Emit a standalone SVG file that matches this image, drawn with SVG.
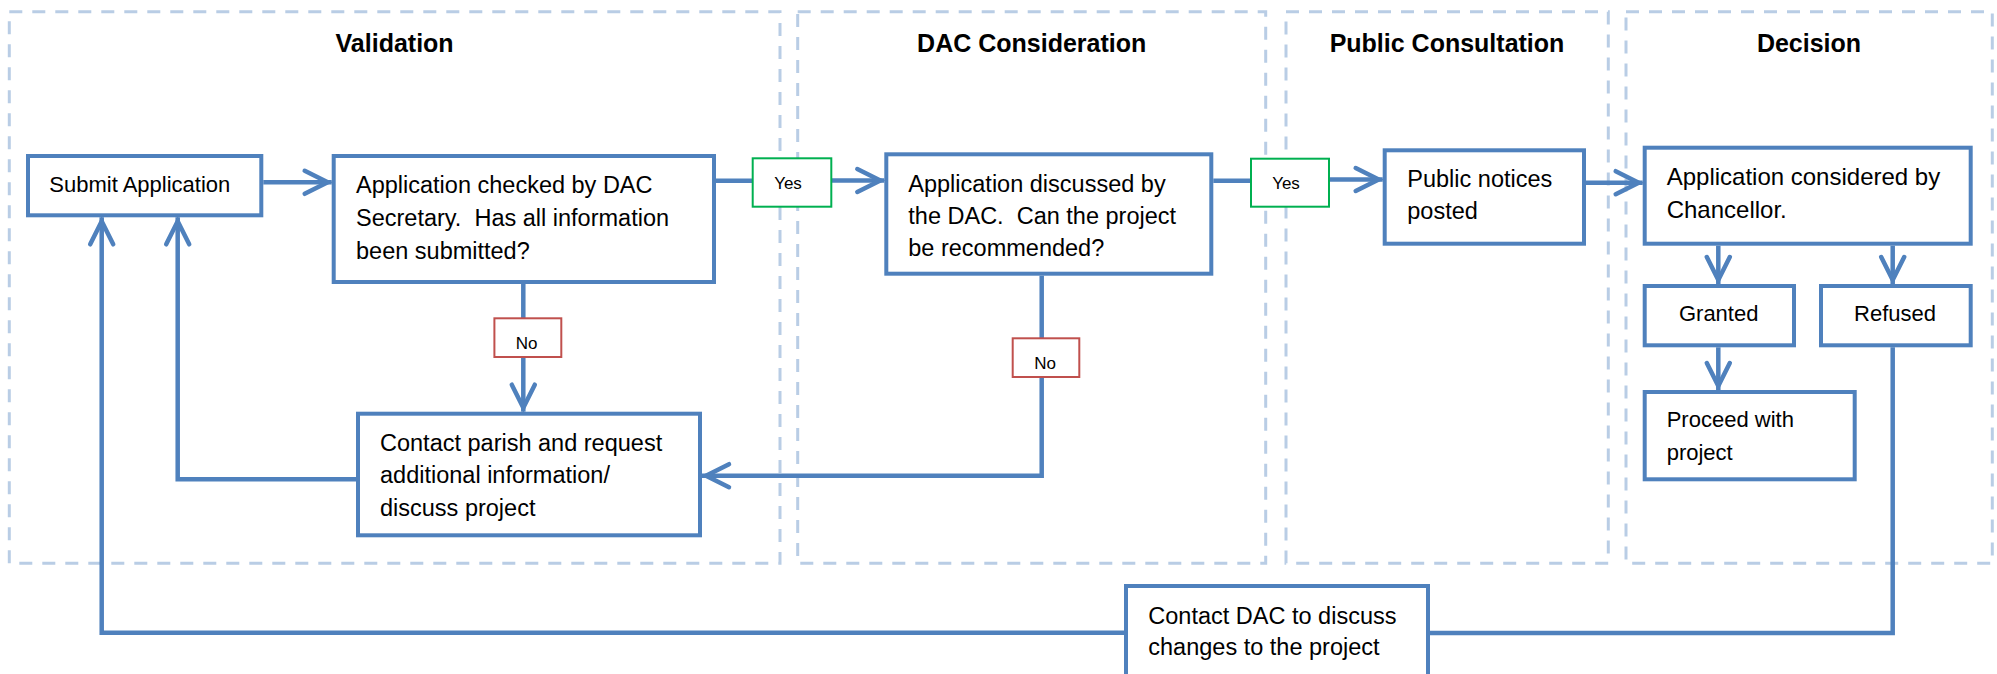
<svg xmlns="http://www.w3.org/2000/svg" width="1997" height="674" viewBox="0 0 1997 674">
  <style>
    .region { fill: none; stroke: #B9CDE5; stroke-width: 3; stroke-dasharray: 13 10; }
    .title { font-family: "Liberation Sans", Arial, sans-serif; font-weight: bold; font-size: 25px; fill: #000; text-anchor: middle; }
    .box { fill: #fff; stroke: #4F81BD; stroke-width: 4; }
    .txt { font-family: "Liberation Sans", Arial, sans-serif; font-size: 23.5px; fill: #000; white-space: pre; }
    .sm { font-size: 22px; }
    .mid { text-anchor: middle; }
    .yes { fill: #fff; stroke: #00B050; stroke-width: 2; }
    .no { fill: #fff; stroke: #C0504D; stroke-width: 2; }
    .lbl { font-family: "Liberation Sans", Arial, sans-serif; font-size: 17px; fill: #000; text-anchor: middle; }
    .conn { fill: none; stroke: #4F81BD; stroke-width: 4.5; stroke-linejoin: miter; }
    .arrow { marker-end: url(#chev); }
  </style>
  <defs>
    <marker id="chev" markerUnits="userSpaceOnUse" viewBox="-32 -16 34 32" markerWidth="34" markerHeight="32" refX="0" refY="0" orient="auto" overflow="visible">
      <path d="M-27,-11.5 L-4,0 L-27,11.5" fill="none" stroke="#4F81BD" stroke-width="4.5" stroke-linecap="round" stroke-linejoin="miter"/>
    </marker>
  </defs>

  <g id="region-validation">
    <rect class="region" x="9.3" y="11.7" width="770.7" height="551.6"/>
    <text class="title" x="394.6" y="51.7">Validation</text>
  </g>
  <g id="region-dac">
    <rect class="region" x="797.7" y="11.7" width="468" height="551.6"/>
    <text class="title" x="1031.7" y="51.7">DAC Consideration</text>
  </g>
  <g id="region-public">
    <rect class="region" x="1286" y="11.7" width="322.3" height="551.6"/>
    <text class="title" x="1447" y="51.7">Public Consultation</text>
  </g>
  <g id="region-decision">
    <rect class="region" x="1626" y="11.7" width="366.3" height="551.6"/>
    <text class="title" x="1809" y="51.7">Decision</text>
  </g>

  <g id="connectors">
    <path class="conn arrow" d="M263.3,182.3 H331.7"/>
    <path class="conn" d="M716,180.7 H752.7"/>
    <path class="conn arrow" d="M831.3,180.5 H884.3"/>
    <path class="conn" d="M523.3,284 V318.3"/>
    <path class="conn arrow" d="M523.3,357 V411.7"/>
    <path class="conn" d="M1213.3,180.7 H1251"/>
    <path class="conn arrow" d="M1329,179.5 H1382.7"/>
    <path class="conn" d="M1041.7,275.7 V338.3"/>
    <path class="conn arrow" d="M1041.7,377 V475.7 H702"/>
    <path class="conn arrow" d="M356,479.3 H177.7 V217.3"/>
    <path class="conn arrow" d="M1586,182.7 H1642.7"/>
    <path class="conn arrow" d="M1718.3,245.7 V284"/>
    <path class="conn arrow" d="M1892.7,245.7 V284"/>
    <path class="conn arrow" d="M1718.3,347.3 V390"/>
    <path class="conn" d="M1892.7,347.3 V633 H1430"/>
    <path class="conn arrow" d="M1124,632.7 H101.7 V217.3"/>
  </g>

  <g id="label-yes-1">
    <rect class="yes" x="752.7" y="158.3" width="78.6" height="48.4"/>
    <text class="lbl" x="788" y="189.3">Yes</text>
  </g>
  <g id="label-yes-2">
    <rect class="yes" x="1251" y="158.7" width="78" height="48"/>
    <text class="lbl" x="1286" y="189.3">Yes</text>
  </g>
  <g id="label-no-1">
    <rect class="no" x="494.4" y="318.3" width="66.9" height="38.7"/>
    <text class="lbl" x="526.5" y="349">No</text>
  </g>
  <g id="label-no-2">
    <rect class="no" x="1012.7" y="338.3" width="66.6" height="38.7"/>
    <text class="lbl" x="1045" y="369">No</text>
  </g>

  <g id="node-submit">
    <rect class="box" x="28" y="156" width="233.3" height="59.3"/>
    <text class="txt sm" x="49.3" y="191.7">Submit Application</text>
  </g>
  <g id="node-check">
    <rect class="box" x="333.7" y="156" width="380.3" height="126"/>
    <text class="txt" x="356"><tspan x="356" y="193.3">Application checked by DAC</tspan><tspan x="356" y="226">Secretary.  Has all information</tspan><tspan x="356" y="258.5">been submitted?</tspan></text>
  </g>
  <g id="node-contact-parish">
    <rect class="box" x="358" y="413.7" width="342" height="121.6"/>
    <text class="txt" x="380"><tspan x="380" y="450.7">Contact parish and request</tspan><tspan x="380" y="483.3">additional information/</tspan><tspan x="380" y="516">discuss project</tspan></text>
  </g>
  <g id="node-discuss">
    <rect class="box" x="886.3" y="154.3" width="325" height="119.4"/>
    <text class="txt" x="908.3"><tspan x="908.3" y="191.7">Application discussed by</tspan><tspan x="908.3" y="224">the DAC.  Can the project</tspan><tspan x="908.3" y="256.3">be recommended?</tspan></text>
  </g>
  <g id="node-notices">
    <rect class="box" x="1384.7" y="150.3" width="199.3" height="93.4"/>
    <text class="txt" x="1407.3"><tspan x="1407.3" y="186.7">Public notices</tspan><tspan x="1407.3" y="219.3">posted</tspan></text>
  </g>
  <g id="node-chancellor">
    <rect class="box" x="1644.7" y="147.7" width="326" height="96"/>
    <text class="txt" x="1666.7" style="font-size:24px"><tspan x="1666.7" y="185">Application considered by</tspan><tspan x="1666.7" y="218.3">Chancellor.</tspan></text>
  </g>
  <g id="node-granted">
    <rect class="box" x="1644.7" y="286" width="149.3" height="59.3"/>
    <text class="txt sm mid" x="1718.7" y="320.7">Granted</text>
  </g>
  <g id="node-refused">
    <rect class="box" x="1821" y="286" width="149.7" height="59.3"/>
    <text class="txt sm mid" x="1895" y="320.7">Refused</text>
  </g>
  <g id="node-proceed">
    <rect class="box" x="1644.7" y="392" width="210" height="87.3"/>
    <text class="txt sm" x="1666.7"><tspan x="1666.7" y="426.7">Proceed with</tspan><tspan x="1666.7" y="460">project</tspan></text>
  </g>
  <g id="node-contact-dac">
    <rect class="box" x="1126" y="586" width="302" height="110"/>
    <text class="txt" x="1148.3"><tspan x="1148.3" y="624">Contact DAC to discuss</tspan><tspan x="1148.3" y="655">changes to the project</tspan></text>
  </g>
</svg>
